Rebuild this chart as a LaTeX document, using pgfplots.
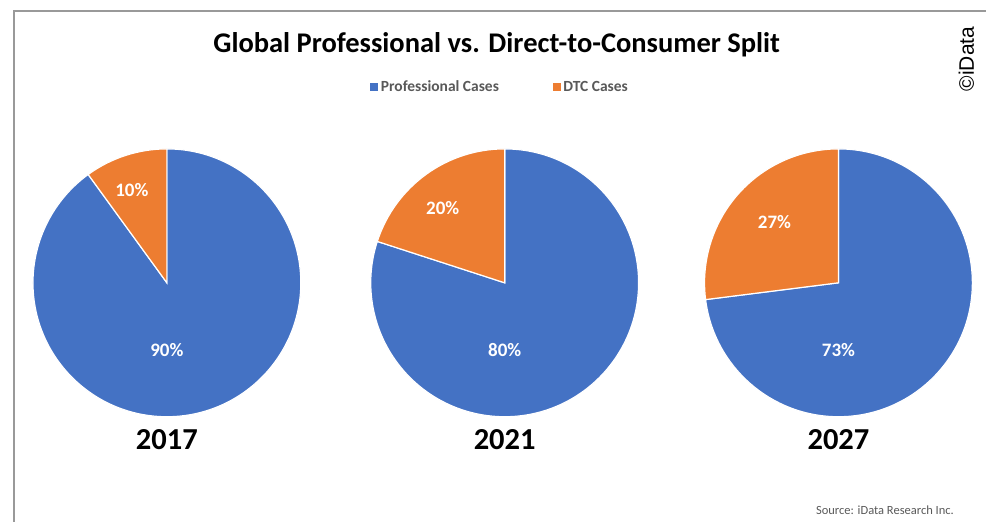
\documentclass[border=0pt]{standalone}
\usepackage{pgfplots}
\pgfplotsset{compat=1.18}
\usepackage{fontspec}
\setmainfont{Carlito}
\newfontfamily\arial{Liberation Sans}
\definecolor{prof}{HTML}{4472C4}
\definecolor{dtc}{HTML}{ED7D31}
\definecolor{legtext}{HTML}{595959}
% #1 centre x, #2 DTC share (%), #3 professional share (%), #4 year
\newcommand\pie[4]{%
  \fill[prof,draw=white,line width=1.2pt] (axis cs:#1,239) -- (axis cs:#1,373)
     arc[start angle=90, delta angle={-3.6*#3}, radius=134pt] -- cycle;
  \fill[dtc,draw=white,line width=1.2pt] (axis cs:#1,239) -- (axis cs:#1,373)
     arc[start angle=90, delta angle={3.6*#2}, radius=134pt] -- cycle;
  \node[font=\bfseries\fontsize{30.5}{32}\selectfont] at (axis cs:#1,82) {#4};
  \node[white,font=\bfseries\fontsize{19}{20}\selectfont] at (axis cs:#1,172) {#3\%};
}
\begin{document}
\begin{tikzpicture}
\begin{axis}[
  width=987pt, height=522pt, scale only axis,
  xmin=0, xmax=987, ymin=0, ymax=522,
  hide axis, clip=false,
  legend style={at={(axis cs:501,435)}, anchor=center, draw=none, fill=none,
    legend columns=2, font=\bfseries\fontsize{15.5}{17}\selectfont, text=legtext,
    /tikz/every even column/.append style={column sep=51pt},
    /tikz/every odd column/.append style={column sep=0pt},
    inner sep=0pt, nodes={inner xsep=3pt}},
  legend image code/.code={\fill[#1] (0pt,-3.5pt) rectangle (7pt,3.5pt);},
]
\path (axis cs:0,0) rectangle (axis cs:987,522);
\addlegendimage{prof}\addlegendentry{Professional Cases}
\addlegendimage{dtc}\addlegendentry{DTC Cases}
% frame
\draw[gray!80,line width=1.3pt] (axis cs:14,0) -- (axis cs:14,511) -- (axis cs:987,511);
\node[font=\bfseries\fontsize{28.5}{30}\selectfont] at (axis cs:497,477) {Global Professional vs. Direct-to-Consumer Split};
\pie{167}{10}{90}{2017}
\pie{505}{20}{80}{2021}
\pie{839}{27}{73}{2027}
\node[white,font=\bfseries\fontsize{19}{20}\selectfont] at (axis cs:132,332) {10\%};
\node[white,font=\bfseries\fontsize{19}{20}\selectfont] at (axis cs:443,314) {20\%};
\node[white,font=\bfseries\fontsize{19}{20}\selectfont] at (axis cs:775,300) {27\%};
\node[legtext,font=\fontsize{12.5}{14}\selectfont,anchor=east] at (axis cs:958,11) {Source: iData Research Inc.};
\node[font=\arial\fontsize{21}{22}\selectfont,rotate=90] at (axis cs:967,463) {©iData};
\end{axis}
\end{tikzpicture}
\end{document}
